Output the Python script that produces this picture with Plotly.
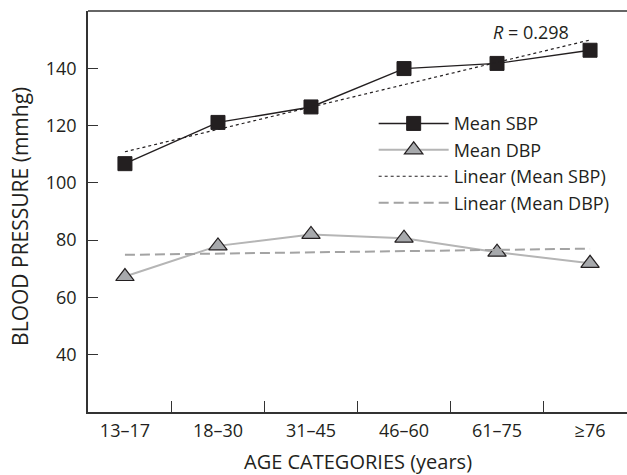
import numpy as np
import plotly.graph_objects as go

categories = ["13–17", "18–30", "31–45", "46–60", "61–75", "≥76"]
mean_sbp = [106.7, 121.1, 126.5, 139.9, 141.7, 146.3]
mean_dbp = [67.3, 78.0, 82.0, 80.7, 75.8, 71.9]
y_ticks = [20, 40, 60, 80, 100, 120, 140, 160]
y_ticklabels = ["", "40", "60", "80", "100", "120", "140", ""]
r_label = "<i>R</i> = 0.298"
x_title = "AGE CATEGORIES (years)"
y_title = "BLOOD PRESSURE (mmhg)"

idx = np.arange(1, len(categories) + 1)
sbp_fit = np.polyval(np.polyfit(idx, mean_sbp, 1), idx)
dbp_fit = np.polyval(np.polyfit(idx, mean_dbp, 1), idx)

FONT = "Open Sans"
DARK = "#231f20"

fig = go.Figure()
fig.add_trace(go.Scatter(
    x=categories, y=mean_sbp, name="Mean SBP", mode="lines+markers",
    line=dict(color=DARK, width=1.4),
    marker=dict(symbol="square", size=14, color=DARK, line=dict(color=DARK, width=1)),
))
fig.add_trace(go.Scatter(
    x=categories, y=mean_dbp, name="Mean DBP", mode="lines+markers",
    line=dict(color="#b5b5b5", width=2),
    marker=dict(symbol="triangle-up", size=16, color="#a7a9ac", line=dict(color=DARK, width=1.2)),
))
fig.add_trace(go.Scatter(
    x=categories, y=sbp_fit, name="Linear (Mean SBP)", mode="lines",
    line=dict(color=DARK, width=1.2, dash="3px,3px"),
))
fig.add_trace(go.Scatter(
    x=categories, y=dbp_fit, name="Linear (Mean DBP)", mode="lines",
    line=dict(color="#a3a3a3", width=2, dash="10px,5px"),
))

fig.add_annotation(
    text=r_label, xref="paper", yref="paper", x=0.822, y=0.9476,
    xanchor="center", yanchor="middle",
    showarrow=False, font=dict(family=FONT, size=18, color=DARK),
)
fig.add_annotation(
    text=x_title, xref="paper", yref="paper", x=0.5, y=-0.1222,
    xanchor="center", yanchor="middle",
    showarrow=False, font=dict(family=FONT, size=20, color=DARK),
)
fig.add_annotation(
    text=y_title, xref="paper", yref="paper", x=-0.1262, y=0.489,
    xanchor="center", yanchor="middle", textangle=-90,
    showarrow=False, font=dict(family=FONT, size=21, color=DARK),
)

fig.update_layout(
    width=627, height=475,
    margin=dict(l=88, r=0, t=11, b=63, autoexpand=False),
    paper_bgcolor="white", plot_bgcolor="white",
    font=dict(family=FONT, size=18, color=DARK),
    showlegend=True,
    legend=dict(
        x=0.53, y=0.765, xanchor="left", yanchor="top",
        bgcolor="rgba(0,0,0,0)", itemwidth=70,
        font=dict(family=FONT, size=18, color=DARK),
        tracegroupgap=0,
    ),
    xaxis=dict(
        type="category", showline=True, linecolor="#333333", linewidth=1.5,
        mirror=False, ticks="inside", ticklen=11, tickwidth=1.2, tickcolor="#333333",
        tickson="boundaries", showgrid=False, zeroline=False, automargin=False,
        ticklabelstandoff=2,
    ),
    yaxis=dict(
        range=[20, 160], tickvals=y_ticks, ticktext=y_ticklabels,
        showline=True, linecolor="#333333", linewidth=1.5, automargin=False,
        ticks="inside", ticklen=10, tickwidth=1.2, tickcolor="#333333",
        showgrid=False, zeroline=False, ticklabelstandoff=6,
    ),
)
fig.add_shape(type="line", xref="paper", yref="paper", x0=0, x1=1, y0=1, y1=1,
              line=dict(color="#333333", width=1.5))

fig.write_html("out.html")
